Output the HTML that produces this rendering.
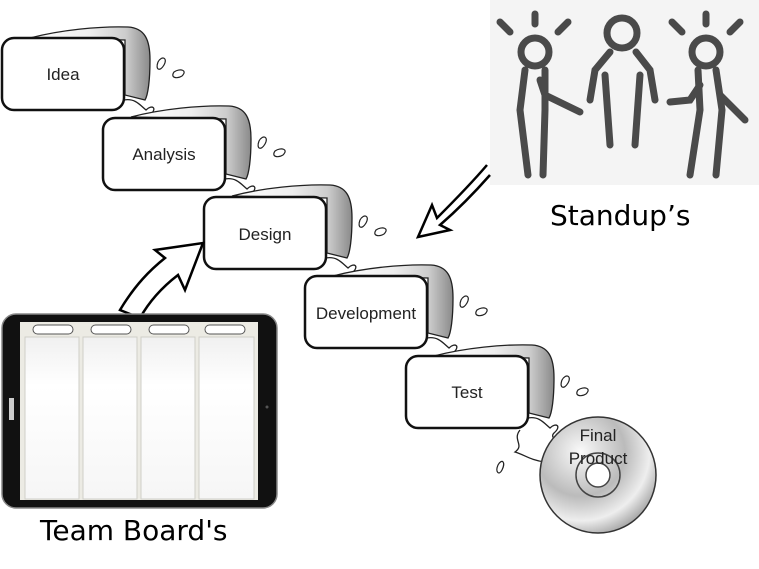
<!DOCTYPE html>
<html><head><meta charset="utf-8"><style>
html,body{margin:0;padding:0;background:#fff;}
svg{display:block;}
.hand{font-family:"Comic Sans MS","DejaVu Sans",sans-serif;}
.lbl{font-family:"Liberation Sans",Arial,sans-serif;font-size:17px;fill:#222;}
</style></head><body>
<svg width="759" height="569" viewBox="0 0 759 569" xmlns="http://www.w3.org/2000/svg">
<defs>
<linearGradient id="wg" x1="0" y1="0" x2="1" y2="0">
<stop offset="0" stop-color="#fff"/><stop offset="0.5" stop-color="#eee"/><stop offset="0.8" stop-color="#ccc"/><stop offset="1" stop-color="#8a8a8a"/>
</linearGradient>
<radialGradient id="cd" cx="0.35" cy="0.3" r="0.85">
<stop offset="0" stop-color="#fafafa"/><stop offset="0.45" stop-color="#bbb"/><stop offset="0.7" stop-color="#eee"/><stop offset="1" stop-color="#777"/>
</radialGradient>
<linearGradient id="col" x1="0" y1="0" x2="0" y2="1">
<stop offset="0" stop-color="#f0f0f0"/><stop offset="0.3" stop-color="#fff"/><stop offset="1" stop-color="#f6f6f6"/>
</linearGradient>
<g id="stream">
<path d="M30,38 C60,30 100,26 128,27 C145,28 150,40 150,60 C150,80 148,95 145,100 L125,95 L125,40 Z" fill="url(#wg)" stroke="#222" stroke-width="1.3"/>
<path d="M124,100 C135,98 140,105 146,110 C152,104 158,108 150,115 C145,120 155,125 160,120 C165,116 170,118 165,123 L162,128" fill="none" stroke="#222" stroke-width="1.3"/>
<path d="M158,62 C162,55 168,58 164,65 C160,72 155,70 158,62 Z" fill="#fff" stroke="#222" stroke-width="1.2"/>
<path d="M174,72 C180,68 188,70 182,76 C177,79 170,78 174,72 Z" fill="#fff" stroke="#222" stroke-width="1.2"/>
</g>
<g id="box">
<rect x="2" y="38" width="122" height="72" rx="12" fill="#fff" stroke="#111" stroke-width="2.5"/>
</g>
</defs>

<rect x="490" y="0" width="269" height="185" fill="#f4f4f4"/>
<g stroke="#4a4a4a" stroke-width="7" stroke-linecap="round" fill="none">
<line x1="535" y1="14" x2="535" y2="24"/><line x1="500" y1="22" x2="510" y2="32"/><line x1="568" y1="22" x2="558" y2="32"/>
<circle cx="535" cy="52" r="14"/>
<path d="M525,70 L520,110 L528,175"/><path d="M545,70 L545,110 L543,175"/>
<path d="M540,80 L545,95 L580,112"/>
<circle cx="622" cy="33" r="15"/>
<path d="M610,52 L595,70 L590,100"/><path d="M636,52 L650,70 L655,100"/>
<path d="M605,75 L610,145"/><path d="M640,75 L635,145"/>
<line x1="706" y1="14" x2="706" y2="24"/><line x1="672" y1="22" x2="682" y2="32"/><line x1="740" y1="22" x2="730" y2="32"/>
<circle cx="706" cy="52" r="14"/>
<path d="M698,70 L700,110 L690,175"/><path d="M716,70 L722,110 L716,175"/>
<path d="M700,85 L690,100 L670,102"/><path d="M720,95 L745,120"/>
</g>
<text x="550" y="225" class="hand" font-size="28" fill="#000">Standup’s</text>

<use href="#stream"/>
<use href="#stream" transform="translate(101,79)"/>
<use href="#stream" transform="translate(202,158)"/>
<use href="#stream" transform="translate(303,238)"/>
<use href="#stream" transform="translate(404,318)"/>
<path d="M520,430 C512,440 525,445 515,452 C525,455 530,460 545,462" fill="none" stroke="#222" stroke-width="1.3"/>
<path d="M498,465 C502,458 506,462 502,470 C499,476 495,472 498,465 Z" fill="#fff" stroke="#222" stroke-width="1.2"/>

<use href="#box"/>
<use href="#box" transform="translate(101,80)"/>
<use href="#box" transform="translate(202,159)"/>
<use href="#box" transform="translate(303,238)"/>
<use href="#box" transform="translate(404,318)"/>
<text x="63" y="80" class="lbl" text-anchor="middle">Idea</text>
<text x="164" y="160" class="lbl" text-anchor="middle">Analysis</text>
<text x="265" y="240" class="lbl" text-anchor="middle">Design</text>
<text x="366" y="319" class="lbl" text-anchor="middle">Development</text>
<text x="467" y="398" class="lbl" text-anchor="middle">Test</text>

<circle cx="598" cy="475" r="58" fill="url(#cd)" stroke="#333" stroke-width="1.5"/>
<circle cx="598" cy="475" r="22" fill="none" stroke="#444" stroke-width="1.5"/>
<circle cx="598" cy="475" r="12" fill="#fff" stroke="#444" stroke-width="1.5"/>
<text x="598" y="441" class="lbl" text-anchor="middle" font-size="16" fill="#111">Final</text>
<text x="598" y="464" class="lbl" text-anchor="middle" font-size="16" fill="#111">Product</text>

<path d="M120,310 C135,285 150,270 165,258 L155,250 L203,243 L185,290 L178,275 C165,285 150,300 140,318 Z" fill="#fff" stroke="#000" stroke-width="2.5"/>
<path d="M487,165 C470,185 450,205 437,218 L432,205 L418,237 L450,230 L440,225 C455,212 475,192 490,175" fill="#fff" stroke="#000" stroke-width="2.5"/>

<rect x="2" y="314" width="275" height="194" rx="14" fill="#111" stroke="#888" stroke-width="1.5"/>
<rect x="20" y="322" width="238" height="178" fill="#ecebe4"/>
<g fill="url(#col)" stroke="#cfcfc8" stroke-width="1">
<rect x="25" y="337" width="54" height="162"/><rect x="83" y="337" width="54" height="162"/>
<rect x="141" y="337" width="54" height="162"/><rect x="199" y="337" width="55" height="162"/>
</g>
<g fill="#fff" stroke="#555" stroke-width="1">
<rect x="33" y="325" width="40" height="9" rx="4.5"/><rect x="91" y="325" width="40" height="9" rx="4.5"/>
<rect x="149" y="325" width="40" height="9" rx="4.5"/><rect x="205" y="325" width="40" height="9" rx="4.5"/>
</g>
<rect x="9" y="398" width="5" height="22" fill="#ccc"/>
<circle cx="267" cy="407" r="1.5" fill="#555"/>
<text x="40" y="540" class="hand" font-size="28" fill="#000">Team Board's</text>
</svg>
</body></html>
